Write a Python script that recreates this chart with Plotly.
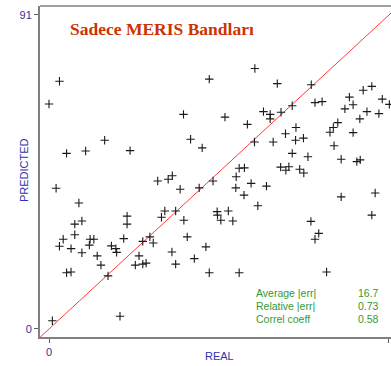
import plotly.graph_objects as go

# Data (REAL vs PREDICTED)
real = [2.8, 0.0, 55.1, 42.9, 36.0, 47.1, 53.1, 61.1, 70.2, 65.1, 57.4, 59.2, 59.2, 62.1,
        71.2, 73.1, 80.4, 84.1, 86.4, 89.2, 91.1, 79.2, 81.4, 85.1, 88.3, 83.2, 66.1, 76.1,
        77.3, 14.9, 4.7, 9.8, 21.7, 1.9, 8.0, 20.9, 8.8, 6.9, 20.9, 6.9, 3.8, 11.0, 12.0,
        20.0, 2.8, 5.9, 10.8, 16.7, 17.9, 37.9, 41.0, 55.0, 50.9, 52.3, 50.1, 54.1, 43.9,
        33.0, 31.9, 29.1, 35.1, 40.2, 50.0, 52.2, 55.9, 31.0, 33.9, 30.1, 36.1, 45.0, 45.1,
        48.0, 46.0, 49.2, 27.0, 25.1, 27.9, 37.0, 42.0, 75.2, 81.4, 63.3, 68.1, 66.0, 60.0,
        76.3, 65.1, 69.3, 78.2, 82.4, 83.3, 62.0, 64.2, 63.4, 67.1, 68.2, 58.2, 87.3, 78.2,
        86.4, 70.1, 72.2, 71.2, 8.8, 12.9, 18.1, 13.9, 4.7, 5.9, 15.8, 0.9, 19.0, 32.9, 24.1,
        38.9, 23.1, 25.1, 26.0, 33.9, 42.9, 50.9, 74.3]
predicted = [71.8, 65.2, 75.5, 72.4, 62.2, 61.4, 59.3, 71.1, 70.8, 64.7, 63.0, 62.2, 60.9, 62.8,
             65.6, 65.9, 67.2, 69.2, 70.3, 66.6, 65.1, 63.8, 65.0, 63.0, 62.4, 60.9, 58.4, 58.4,
             59.8, 54.7, 50.9, 51.6, 51.7, 40.8, 36.5, 32.7, 31.3, 30.4, 30.4, 27.3, 26.0, 26.0, 26.0,
             26.2, 24.0, 23.3, 24.3, 24.1, 23.3, 55.0, 52.5, 54.2, 46.6, 46.7, 44.1, 42.2, 42.9,
             44.4, 43.4, 42.9, 40.5, 40.9, 40.9, 38.8, 35.7, 34.2, 34.2, 32.4, 31.5, 34.0, 33.0,
             34.2, 31.5, 31.3, 26.7, 25.4, 24.9, 26.7, 23.8, 57.0, 56.9, 56.6, 55.3, 54.7, 54.2,
             53.1, 50.9, 49.9, 49.2, 48.5, 49.0, 46.9, 47.0, 46.0, 46.3, 45.2, 41.4, 39.4, 38.3,
             33.0, 31.2, 27.7, 26.0, 22.1, 21.2, 22.2, 18.5, 16.3, 16.5, 15.4, 2.4, 3.7, 22.3, 21.2,
             20.4, 18.5, 18.8, 19.1, 18.8, 16.3, 16.3, 16.5]

axis_ticks = [0, 91]
tick_labels = ["0", "91"]
stat_names = ["Average |err|", "Relative |err|", "Correl coeff"]
stat_values = ["16.7", "0.73", "0.58"]
title_text = "Sadece MERIS Bandları"

x_range = [-2.41, 91.54]
y_range = [-2.32, 93.6]

fig = go.Figure()

# identity line
fig.add_trace(go.Scatter(
    x=[x_range[0], x_range[1]], y=[x_range[0], x_range[1]],
    mode="lines", line=dict(color="#ff3b3b", width=1), hoverinfo="skip",
    showlegend=False, cliponaxis=True))

fig.add_trace(go.Scatter(
    x=real, y=predicted, mode="markers",
    marker=dict(symbol="cross-thin", size=6, line=dict(color="#1a1a1a", width=1.1)),
    showlegend=False, cliponaxis=False))

lab_col = "#333399"
fig.update_layout(
    width=391, height=366,
    margin=dict(l=40, r=0, t=6, b=29),
    paper_bgcolor="white", plot_bgcolor="white",
    font=dict(family="Liberation Sans, Arial, sans-serif", size=11, color=lab_col),
    xaxis=dict(range=x_range, tickvals=axis_ticks, ticktext=tick_labels,
               showgrid=False, zeroline=False, showline=True, linecolor="#808080", linewidth=1.5,
               ticks="outside", ticklen=4, tickcolor="#606060", tickwidth=1,
               tickfont=dict(size=11, color=lab_col)),
    yaxis=dict(range=y_range, tickvals=axis_ticks, ticktext=tick_labels,
               showgrid=False, zeroline=False, showline=True, linecolor="#808080", linewidth=2,
               ticks="outside", ticklen=4, tickcolor="#606060", tickwidth=1,
               tickfont=dict(size=11, color=lab_col)),
    showlegend=False,
)

# top border
fig.add_shape(type="line", xref="paper", yref="paper", x0=0, x1=1, y0=1, y1=1,
              line=dict(color="#808080", width=1.5))

annotations = [
    dict(text=title_text, xref="paper", yref="paper", x=(68 - 40) / 351, y=(337 - 28.5) / 331,
         xanchor="left", yanchor="middle", showarrow=False,
         font=dict(family="Liberation Serif, Times New Roman, serif", size=17.5, color="#cc3300",
                   weight="bold")),
    dict(text="PREDICTED", xref="paper", yref="paper", x=(24 - 40) / 351, y=(337 - 170) / 331,
         xanchor="center", yanchor="middle", textangle=-90, showarrow=False,
         font=dict(size=11, color="#3333aa")),
    dict(text="REAL", xref="paper", yref="paper", x=(219 - 40) / 351, y=(337 - 355.5) / 331,
         xanchor="center", yanchor="middle", showarrow=False,
         font=dict(size=11, color="#3333aa")),
]
for i, (n, v) in enumerate(zip(stat_names, stat_values)):
    yc = 293.3 + 12.9 * i
    annotations.append(dict(text=n, xref="paper", yref="paper", x=(254 - 40) / 351,
                            y=(337 - yc) / 331, xanchor="left", yanchor="middle", showarrow=False,
                            font=dict(size=10.5, color="#339933")))
    annotations.append(dict(text=v, xref="paper", yref="paper", x=(381 - 40) / 351,
                            y=(337 - yc) / 331, xanchor="right", yanchor="middle", showarrow=False,
                            font=dict(size=10.5, color="#339933")))
fig.update_layout(annotations=annotations)

fig.write_html("out.html", config={"displayModeBar": False},
               post_script="document.body.style.margin='0';document.body.style.overflow='hidden';")
